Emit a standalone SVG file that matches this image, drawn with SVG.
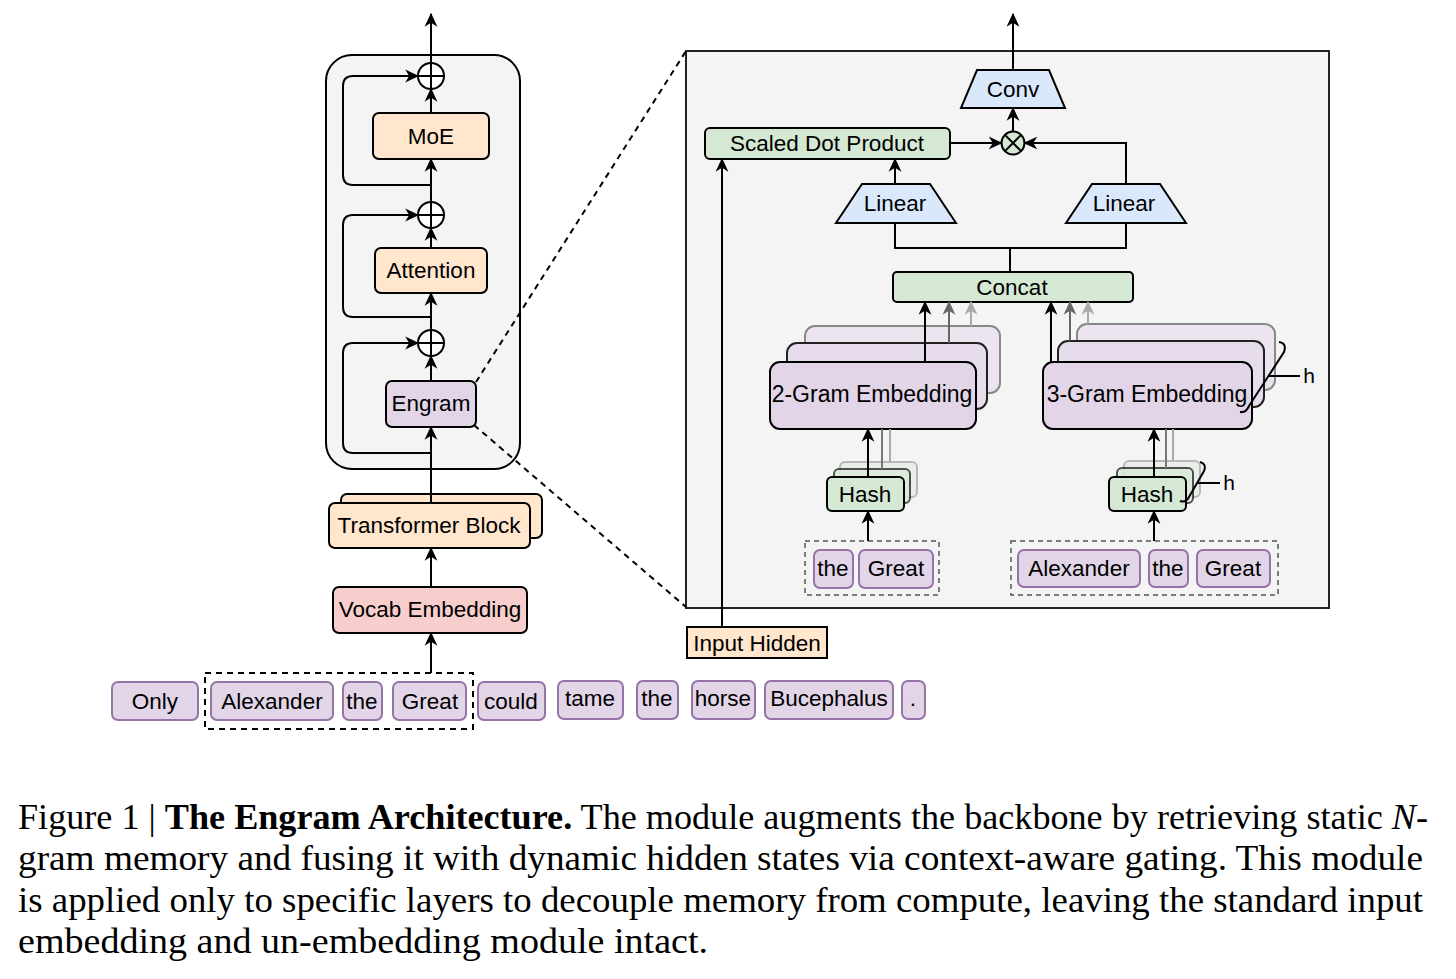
<svg xmlns="http://www.w3.org/2000/svg" width="1456" height="979" viewBox="0 0 1456 979">
<defs>
<marker id="ah" viewBox="0 0 12 12" refX="11" refY="6" markerWidth="14" markerHeight="14" orient="auto" markerUnits="userSpaceOnUse"><path d="M0,0.5 L12,6 L0,11.5 L3.5,6 z" fill="#000"/></marker>
<marker id="ahg" viewBox="0 0 12 12" refX="11" refY="6" markerWidth="14" markerHeight="14" orient="auto" markerUnits="userSpaceOnUse"><path d="M0,0.5 L12,6 L0,11.5 L3.5,6 z" fill="#666"/></marker>
<marker id="ahl" viewBox="0 0 12 12" refX="11" refY="6" markerWidth="14" markerHeight="14" orient="auto" markerUnits="userSpaceOnUse"><path d="M0,0.5 L12,6 L0,11.5 L3.5,6 z" fill="#aaa"/></marker>
</defs>
<style>
text{font-family:"Liberation Sans",Arial,sans-serif;font-size:22.5px;fill:#000;text-anchor:middle}
.box{stroke:#000;stroke-width:2}
.orange{fill:#ffe6cc}
.purple{fill:#e1d5e7}
.green{fill:#d5e8d4}
.blue{fill:#dae8fc}
.red{fill:#f8cecc}
.tok{fill:#e1d5e7;stroke:#9673a6;stroke-width:2}
.mid{fill:#e6dcec;stroke:#222;stroke-width:2}
.back{fill:#ece5f0;stroke:#888;stroke-width:2}
.hmid{fill:#dbeadb;stroke:#333;stroke-width:2;opacity:0.85}
.hback{fill:#e6efe6;stroke:#aaa;stroke-width:2;opacity:0.8}
.dash{fill:none;stroke:#000;stroke-width:2;stroke-dasharray:6,5}
.dash2{fill:none;stroke:#555;stroke-width:1.5;stroke-dasharray:5,4}
.ln{fill:none;stroke:#000;stroke-width:2}
.arr{fill:none;stroke:#000;stroke-width:2;marker-end:url(#ah)}
.arrg{fill:none;stroke:#666;stroke-width:2;marker-end:url(#ahg)}
.arrl{fill:none;stroke:#aaa;stroke-width:2;marker-end:url(#ahl)}
.gl{fill:none;stroke:#777;stroke-width:2}
.gll{fill:none;stroke:#aaa;stroke-width:2}
.cap{font-family:"Liberation Serif","Times New Roman",serif;font-size:35px;text-anchor:start}
</style>
<rect width="1456" height="979" fill="#fff"/>

<g id="backbone-frame"><rect x="326" y="55" width="194" height="414" rx="26" fill="#f4f4f4" stroke="#000" stroke-width="2"/></g>
<g id="engram-panel"><rect x="686" y="51" width="643" height="557" fill="#f4f4f4" stroke="#222" stroke-width="2"/></g>

<g id="add1"><circle cx="431" cy="76" r="13" fill="#fff" stroke="#000" stroke-width="2"/><path d="M418,76 H444 M431,63 V89" class="ln"/></g>
<g id="moe"><rect x="373" y="113" width="116" height="46" rx="6" class="box orange"/><text x="431" y="144">MoE</text></g>
<g id="add2"><circle cx="431" cy="215" r="13" fill="#fff" stroke="#000" stroke-width="2"/><path d="M418,215 H444 M431,202 V228" class="ln"/></g>
<g id="attention"><rect x="375" y="248" width="112" height="45" rx="6" class="box orange"/><text x="431" y="278">Attention</text></g>
<g id="add3"><circle cx="431" cy="343" r="13" fill="#fff" stroke="#000" stroke-width="2"/><path d="M418,343 H444 M431,330 V356" class="ln"/></g>
<g id="engram"><rect x="386" y="381" width="90" height="46" rx="6" class="box purple"/><text x="431" y="411">Engram</text></g>
<g id="transformer"><rect x="341" y="494" width="201" height="44" rx="6" class="box orange"/><rect x="329" y="503" width="201" height="45" rx="6" class="box orange"/><text x="429" y="533">Transformer Block</text></g>
<g id="vocab"><rect x="333" y="587" width="194" height="46" rx="6" class="box red"/><text x="430" y="617">Vocab Embedding</text></g>

<g id="tokens">
<rect x="205" y="673" width="268" height="56" class="dash"/>
<rect x="112" y="682" width="86" height="38" rx="6" class="tok"/><text x="155" y="709">Only</text>
<rect x="211" y="682" width="122" height="38" rx="6" class="tok"/><text x="272" y="709">Alexander</text>
<rect x="343" y="682" width="39" height="38" rx="6" class="tok"/><text x="362" y="709">the</text>
<rect x="393" y="682" width="73" height="38" rx="6" class="tok"/><text x="430" y="709">Great</text>
<rect x="478" y="682" width="67" height="38" rx="6" class="tok"/><text x="511" y="709">could</text>
<rect x="558" y="681" width="65" height="38" rx="6" class="tok"/><text x="590" y="706">tame</text>
<rect x="637" y="681" width="41" height="38" rx="6" class="tok"/><text x="657" y="706">the</text>
<rect x="692" y="681" width="63" height="38" rx="6" class="tok"/><text x="723" y="706">horse</text>
<rect x="765" y="681" width="128" height="38" rx="6" class="tok"/><text x="829" y="706">Bucephalus</text>
<rect x="902" y="681" width="23" height="38" rx="6" class="tok"/><text x="913" y="706">.</text>
</g>

<g id="input-hidden"><rect x="687" y="627" width="140" height="31" class="box orange" stroke-width="2"/><text x="757" y="651">Input Hidden</text></g>

<g id="conv"><path d="M977,70 L1049,70 L1065,108 L961,108 Z" class="box blue"/><text x="1013" y="97">Conv</text></g>
<g id="multiply"><circle cx="1013" cy="143" r="11.5" fill="#d5e8d4" stroke="#000" stroke-width="2"/><path d="M1004.9,134.9 L1021.1,151.1 M1021.1,134.9 L1004.9,151.1" class="ln"/></g>
<g id="sdp"><rect x="705" y="128" width="245" height="31" rx="5" class="box green"/><text x="827" y="151">Scaled Dot Product</text></g>
<g id="linear1"><path d="M862,184 L930,184 L956,223 L836,223 Z" class="box blue"/><text x="895" y="211">Linear</text></g>
<g id="linear2"><path d="M1092,184 L1160,184 L1186,223 L1066,223 Z" class="box blue"/><text x="1124" y="211">Linear</text></g>
<g id="concat"><rect x="893" y="272" width="240" height="30" rx="4" class="box green"/><text x="1012" y="295">Concat</text></g>

<g id="emb2">
<rect x="805" y="326" width="195" height="67" rx="10" class="back"/>
<rect x="787" y="343" width="200" height="66" rx="10" class="mid"/>
<rect x="770" y="362" width="206" height="67" rx="10" class="box purple"/>
<text x="872" y="402" style="font-size:23px">2-Gram Embedding</text>
</g>
<g id="emb3">
<rect x="1077" y="324" width="198" height="66" rx="10" class="back"/>
<rect x="1058" y="341" width="206" height="66" rx="10" class="mid"/>
<rect x="1043" y="362" width="209" height="67" rx="10" class="box purple"/>
<text x="1147" y="402" style="font-size:23px">3-Gram Embedding</text>
<path d="M1279,342 Q1287,343 1284,352 L1249,406 Q1246,413 1240,412" class="ln" stroke-width="1.8"/>
<path d="M1268,376 H1300" class="ln"/>
<text x="1309" y="383" style="font-size:21px">h</text>
</g>
<g id="hash2">
<rect x="840" y="462" width="77" height="35" rx="5" class="hback"/>
<rect x="834" y="469" width="76" height="34" rx="5" class="hmid"/>
<rect x="827" y="477" width="77" height="34" rx="5" class="box green"/>
<text x="865" y="502">Hash</text>
</g>
<g id="hash3">
<rect x="1124" y="461" width="76" height="36" rx="5" class="hback"/>
<rect x="1117" y="468" width="76" height="35" rx="5" class="hmid"/>
<rect x="1109" y="477" width="77" height="34" rx="5" class="box green"/>
<text x="1147" y="502">Hash</text>
<path d="M1200,462 Q1207,464 1204,471 L1189,497 Q1186,503 1180,501" class="ln" stroke-width="1.8"/>
<path d="M1197,483 H1220" class="ln"/>
<text x="1229" y="490" style="font-size:21px">h</text>
</g>
<g id="ngram2-tokens">
<rect x="805" y="541" width="134" height="54" class="dash2"/>
<rect x="814" y="550" width="39" height="38" rx="6" class="tok"/><text x="833" y="576">the</text>
<rect x="859" y="550" width="74" height="38" rx="6" class="tok"/><text x="896" y="576">Great</text>
</g>
<g id="ngram3-tokens">
<rect x="1011" y="541" width="267" height="54" class="dash2"/>
<rect x="1018" y="550" width="122" height="37" rx="6" class="tok"/><text x="1079" y="576">Alexander</text>
<rect x="1149" y="550" width="39" height="37" rx="6" class="tok"/><text x="1168" y="576">the</text>
<rect x="1197" y="550" width="73" height="37" rx="6" class="tok"/><text x="1233" y="576">Great</text>
</g>

<g id="connectors">
<path d="M431,63 V14" class="arr"/>
<path d="M431,113 V89" class="arr"/>
<path d="M431,202 V159" class="arr"/>
<path d="M431,185 H353 Q343,185 343,175 V86 Q343,76 353,76 H418" class="arr"/>
<path d="M431,248 V228" class="arr"/>
<path d="M431,330 V293" class="arr"/>
<path d="M431,317 H353 Q343,317 343,307 V225 Q343,215 353,215 H418" class="arr"/>
<path d="M431,381 V356" class="arr"/>
<path d="M431,453 H353 Q343,453 343,443 V353 Q343,343 353,343 H418" class="arr"/>
<path d="M431,503 V427" class="arr"/>
<path d="M431,587 V548" class="arr"/>
<path d="M431,673 V633" class="arr"/>
<path d="M476,382 L686,51" class="dash"/>
<path d="M474,425 L686,607" class="dash"/>
<path d="M1013,70 V14" class="arr"/>
<path d="M1013,131.5 V108" class="arr"/>
<path d="M950,143 H1001.5" class="arr"/>
<path d="M1126,184 V143 H1024.5" class="arr"/>
<path d="M895,184 V159" class="arr"/>
<path d="M722,627 V159" class="arr"/>
<path d="M895,223 V248 H1126 V223 M1010,272 V248" class="ln"/>
<path d="M971,326 V302" class="arrl"/>
<path d="M949,343 V302" class="arrg"/>
<path d="M925,362 V302" class="arr"/>
<path d="M1088,324 V302" class="arrl"/>
<path d="M1070,341 V302" class="arrg"/>
<path d="M1051,362 V302" class="arr"/>
<path d="M890,462 V429" class="gll"/>
<path d="M882,469 V429" class="gl"/>
<path d="M868,477 V429" class="arr"/>
<path d="M1173,461 V429" class="gll"/>
<path d="M1166,468 V429" class="gl"/>
<path d="M1154,477 V429" class="arr"/>
<path d="M868,541 V511" class="arr"/>
<path d="M1154,541 V511" class="arr"/>
</g>

<g id="caption">
<text class="cap" x="18" y="829" textLength="1410" lengthAdjust="spacingAndGlyphs">Figure 1 | <tspan font-weight="bold">The Engram Architecture.</tspan> The module augments the backbone by retrieving static <tspan font-style="italic">N</tspan>-</text>
<text class="cap" x="18" y="870" textLength="1405" lengthAdjust="spacingAndGlyphs">gram memory and fusing it with dynamic hidden states via context-aware gating. This module</text>
<text class="cap" x="18" y="912" textLength="1405" lengthAdjust="spacingAndGlyphs">is applied only to specific layers to decouple memory from compute, leaving the standard input</text>
<text class="cap" x="18" y="953" textLength="690" lengthAdjust="spacingAndGlyphs">embedding and un-embedding module intact.</text>
</g>
</svg>
